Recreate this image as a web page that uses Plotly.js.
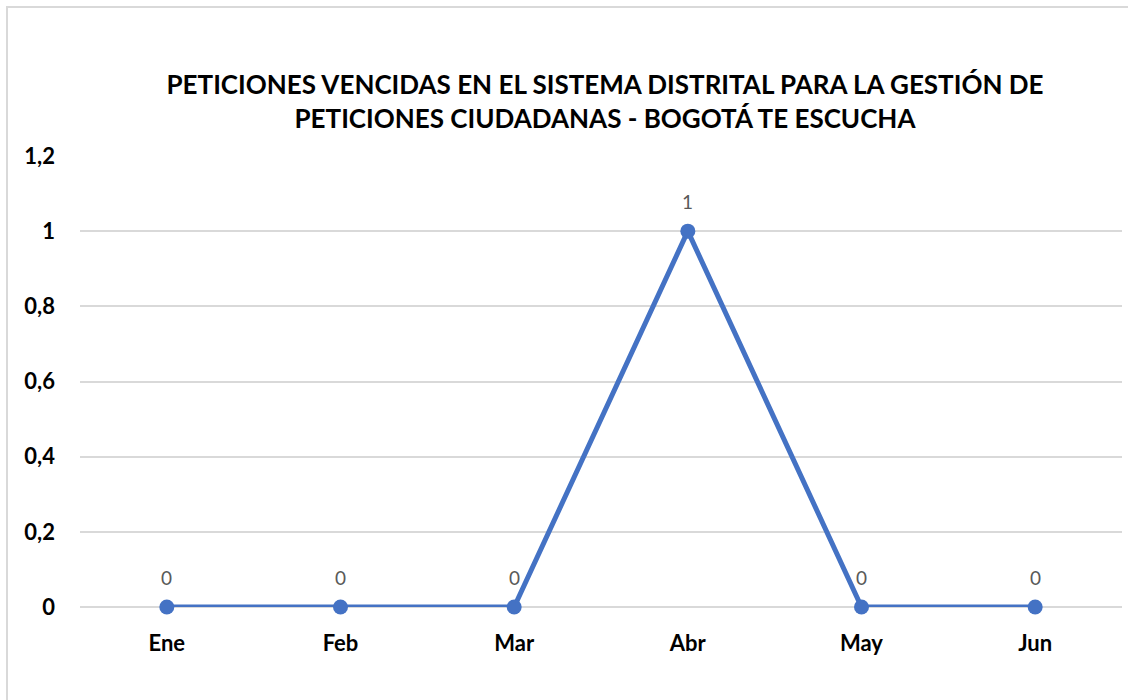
<!DOCTYPE html>
<html>
<head>
<meta charset="utf-8">
<script src="https://cdn.plot.ly/plotly-3.0.1.min.js"></script>
<style>
html,body{margin:0;padding:0;background:#fff;overflow:hidden;}
#frame{position:absolute;left:6px;top:6px;width:1130px;height:700px;border:2px solid #d9d9d9;box-sizing:border-box;}
#chart{position:absolute;left:0;top:0;width:1128px;height:700px;}
</style>
</head>
<body>
<div id="frame"></div>
<div id="chart"></div>
<script>
const months = ['Ene','Feb','Mar','Abr','May','Jun'];
const values = [0,0,0,1,0,0];
const titleLines = ['PETICIONES VENCIDAS EN EL SISTEMA DISTRITAL PARA LA GESTIÓN DE','PETICIONES CIUDADANAS - BOGOTÁ TE ESCUCHA'];
const yTicks = [0,0.2,0.4,0.6,0.8,1,1.2];

const FONT = 'Lato, "Open Sans", sans-serif';

const trace = {
  x: months,
  y: values,
  type: 'scatter',
  mode: 'lines+markers',
  line: {color: '#4472C4', width: 5},
  marker: {color: '#4472C4', size: 15},
  cliponaxis: false,
  hoverinfo: 'none'
};

const annotations = months.map((m, i) => ({
  x: m, y: values[i], xref: 'x', yref: 'y',
  text: String(values[i]).replace('.', ','),
  showarrow: false, yshift: 30,
  font: {family: FONT, size: 19, color: '#595959'}
}));

const layout = {
  width: 1128, height: 700,
  paper_bgcolor: 'rgba(0,0,0,0)',
  plot_bgcolor: 'rgba(0,0,0,0)',
  separators: ',.',
  margin: {l: 80, r: 6, t: 156, b: 93},
  showlegend: false,
  title: {
    text: titleLines.join('<br>'),
    x: 605/1128, xanchor: 'center', xref: 'container',
    y: 1 - 94/700, yanchor: 'middle', yref: 'container',
    font: {family: FONT, size: 26, color: '#000', weight: 'bold'}
  },
  xaxis: {
    type: 'category',
    range: [-0.5, 5.5],
    showgrid: false, zeroline: false, showline: false,
    ticks: '',
    ticklabelstandoff: 21,
    tickfont: {family: FONT, size: 22, color: '#000', weight: 'bold'},
    fixedrange: true
  },
  yaxis: {
    range: [0, 1.2],
    tickvals: yTicks,
    showgrid: true, gridcolor: '#d9d9d9', gridwidth: 2,
    zeroline: true, zerolinecolor: '#d9d9d9', zerolinewidth: 2,
    showline: false, ticks: '',
    ticklabelstandoff: 24,
    tickfont: {family: FONT, size: 22, color: '#000', weight: 'bold'},
    fixedrange: true
  },
  annotations: annotations
};

Plotly.newPlot('chart', [trace], layout, {displayModeBar: false, staticPlot: true});
</script>
</body>
</html>
